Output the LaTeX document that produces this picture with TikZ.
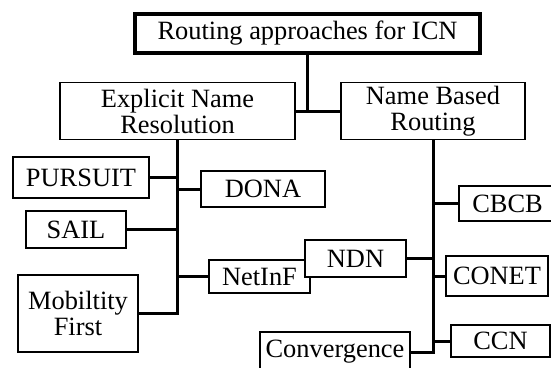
\documentclass[tikz,border=0pt]{standalone}
\usepackage{fontspec}
\setmainfont{Liberation Serif}
\begin{document}
\begin{tikzpicture}[x=1pt,y=-1pt,
  box/.style={draw,line width=1.9pt,fill=white,inner sep=0pt,align=center,
    font=\fontsize{26.4}{26}\selectfont},
  link/.style={line width=3pt}]
\useasboundingbox (0,0) rectangle (551,367);

\node[box,line width=4.5pt,minimum width=345,minimum height=39] (root) at (307.5,33.5) {Routing approaches for ICN};
\node[box,minimum width=235,minimum height=57] (enr) at (177.5,111) {Explicit Name\\Resolution};
\node[box,minimum width=184,minimum height=57] (nbr) at (433,111) {Name Based\\Routing};

\draw[link] (root.south) -- (root.south |- enr.east);
\draw[link] (enr.east) -- (nbr.west);

\node[box,minimum width=136,minimum height=41] (pursuit) at (81,177.5) {PURSUIT};
\node[box,minimum width=124,minimum height=36] (dona) at (263,189) {DONA};
\node[box,minimum width=100,minimum height=37] (sail) at (76,229.5) {SAIL};
\node[box,minimum width=101,minimum height=33] (netinf) at (259.5,276.5) {NetInF};
\node[box,minimum width=120,minimum height=77] (mob) at (78,313.5) {Mobiltity\\First};

\draw[link] (enr.south) |- (mob.east);
\draw[link] (pursuit.east) -- (pursuit.east -| enr.south);
\draw[link] (dona.west) -- (dona.west -| enr.south);
\draw[link] (sail.east) -- (sail.east -| enr.south);
\draw[link] (netinf.west) -- (netinf.west -| enr.south);

\node[box,minimum width=101,minimum height=37] (ndn) at (355.5,258.5) {NDN};
\node[box,minimum width=97,minimum height=35] (cbcb) at (507.5,203.5) {CBCB};
\node[box,minimum width=102,minimum height=40] (conet) at (497,276) {CONET};
\node[box,minimum width=99,minimum height=32] (ccn) at (500.5,341) {CCN};
\node[box,minimum width=150,minimum height=40] (conv) at (335,352) {Convergence};

\draw[link] (nbr.south) |- (conv.east);
\draw[link] (cbcb.west) -- (cbcb.west -| nbr.south);
\draw[link] (ndn.east) -- (ndn.east -| nbr.south);
\draw[link] (conet.west) -- (conet.west -| nbr.south);
\draw[link] (ccn.west) -- (ccn.west -| nbr.south);

\end{tikzpicture}
\end{document}
